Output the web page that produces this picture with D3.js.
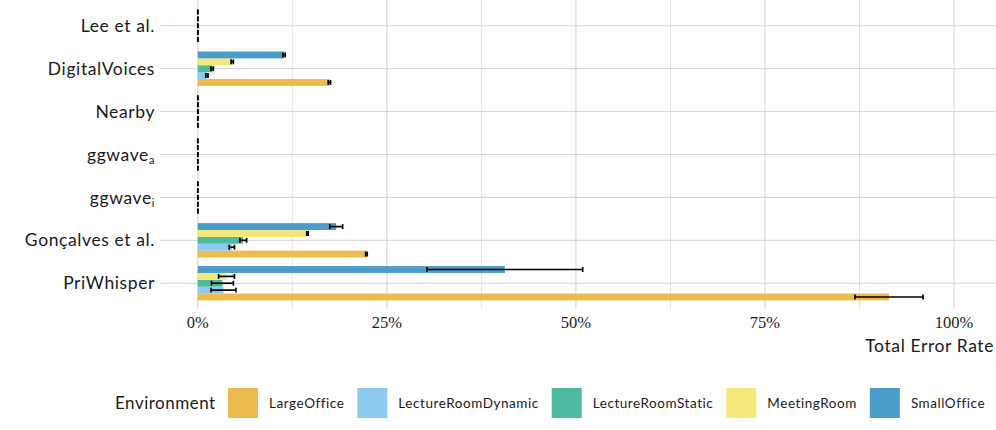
<!DOCTYPE html>
<html>
<head>
<meta charset="utf-8">
<script src="https://cdn.jsdelivr.net/npm/d3@7"></script>
<style>
  body { margin: 0; background: #fff; }
  svg { display: block; }
</style>
</head>
<body>
<div id="chart"></div>
<script>
// systems, top to bottom
var systems = ["Lee et al.", "DigitalVoices", "Nearby", "ggwave_a", "ggwave_i", "Gonçalves et al.", "PriWhisper"];
// environments, legend order (first one is drawn at the bottom of each group)
var environments = ["LargeOffice", "LectureRoomDynamic", "LectureRoomStatic", "MeetingRoom", "SmallOffice"];
var envColors = ["#ECB43B", "#81C4EE", "#3BB494", "#F4E66C", "#3691C3"];

// mean total error rate (%) per environment, in the order of systems
var largeOffice        = [0, 17.4, 0, 0, 0, 22.3, 91.4];
var lectureRoomDynamic = [0, 1.2, 0, 0, 0, 4.5, 3.4];
var lectureRoomStatic  = [0, 1.9, 0, 0, 0, 6.0, 3.25];
var meetingRoom        = [0, 4.55, 0, 0, 0, 14.5, 3.8];
var smallOffice        = [0, 11.4, 0, 0, 0, 18.3, 40.6];

// error bar half widths (%)
var largeOfficeErr        = [0, 0.15, 0, 0, 0, 0.1, 4.5];
var lectureRoomDynamicErr = [0, 0.15, 0, 0, 0, 0.35, 1.65];
var lectureRoomStaticErr  = [0, 0.15, 0, 0, 0, 0.45, 1.45];
var meetingRoomErr        = [0, 0.15, 0, 0, 0, 0.1, 1.05];
var smallOfficeErr        = [0, 0.15, 0, 0, 0, 0.85, 10.3];

var xTicks = [0, 25, 50, 75, 100];
var xMinor = [12.5, 37.5, 62.5, 87.5];

var width = 996, height = 430;
var margin = {top: 0, right: 0, bottom: 121, left: 160};

var means = [largeOffice, lectureRoomDynamic, lectureRoomStatic, meetingRoom, smallOffice];
var errs = [largeOfficeErr, lectureRoomDynamicErr, lectureRoomStaticErr, meetingRoomErr, smallOfficeErr];

var data = [];
environments.forEach(function(env, j) {
    systems.forEach(function(sys, i) {
        data.push({system: sys, env: env, value: means[j][i], err: errs[j][i]});
    });
});

var sans = "Lato, 'Open Sans', sans-serif";
var serif = "'Liberation Serif', 'DejaVu Serif', serif";

var svg = d3.select("#chart").append("svg").attr("width", width).attr("height", height);

var xScale = d3.scaleLinear()
    .domain([-5, 105.55])
    .range([margin.left, width - margin.right]);

var yScale = d3.scalePoint()
    .domain(systems)
    .range([margin.top, height - margin.bottom])
    .padding(0.6);

var step = yScale.step();
// dodge inside each group; reversed so that the first environment sits at the bottom
var dodge = d3.scaleBand()
    .domain(environments.slice().reverse())
    .range([-0.4 * step, 0.4 * step]);

var color = d3.scaleOrdinal().domain(environments).range(envColors);

var panelBottom = yScale.range()[1];

// grid
var grid = svg.append("g");
grid.selectAll("line.minor")
    .data(xMinor)
    .enter()
    .append("line")
    .attr("x1", d => xScale(d)).attr("x2", d => xScale(d))
    .attr("y1", margin.top).attr("y2", panelBottom)
    .attr("stroke", "#e3e3e3").attr("stroke-width", 1);
grid.selectAll("line.major")
    .data(xTicks)
    .enter()
    .append("line")
    .attr("x1", d => xScale(d)).attr("x2", d => xScale(d))
    .attr("y1", margin.top).attr("y2", panelBottom)
    .attr("stroke", "#d4d4d4").attr("stroke-width", 1);
grid.selectAll("line.y")
    .data(systems)
    .enter()
    .append("line")
    .attr("x1", margin.left).attr("x2", width - margin.right)
    .attr("y1", d => yScale(d)).attr("y2", d => yScale(d))
    .attr("stroke", "#d4d4d4").attr("stroke-width", 1);

// bars
svg.append("g")
    .selectAll("rect")
    .data(data)
    .enter()
    .append("rect")
    .attr("x", xScale(0))
    .attr("y", d => yScale(d.system) + dodge(d.env))
    .attr("width", d => xScale(d.value) - xScale(0))
    .attr("height", dodge.bandwidth())
    .attr("fill", d => color(d.env))
    .attr("fill-opacity", 0.9);

// error bars
var capH = dodge.bandwidth() * 0.72;
var eb = svg.append("g").attr("stroke", "#000").attr("stroke-width", 1.7);
data.forEach(function(d) {
    var cy = yScale(d.system) + dodge(d.env) + dodge.bandwidth() / 2;
    var lo = xScale(d.value - d.err), hi = xScale(d.value + d.err);
    eb.append("line").attr("x1", lo).attr("x2", hi).attr("y1", cy).attr("y2", cy);
    eb.append("line").attr("x1", lo).attr("x2", lo).attr("y1", cy - capH / 2).attr("y2", cy + capH / 2);
    eb.append("line").attr("x1", hi).attr("x2", hi).attr("y1", cy - capH / 2).attr("y2", cy + capH / 2);
});

// y labels
var yLab = svg.append("g")
    .selectAll("text")
    .data(systems)
    .enter()
    .append("text")
    .attr("x", margin.left - 5)
    .attr("y", d => yScale(d))
    .attr("dy", "0.35em")
    .attr("text-anchor", "end")
    .attr("font-family", sans)
    .attr("font-size", "17.5px")
    .attr("letter-spacing", "0.6px")
    .attr("fill", "#1a1a1a");
yLab.each(function(d) {
    var t = d3.select(this);
    var parts = d.split("_");
    t.append("tspan").text(parts[0]);
    if (parts.length > 1) {
        t.append("tspan").attr("font-size", "11px").attr("dy", "0.3em").text(parts[1]);
    }
});

// x tick labels
svg.append("g")
    .selectAll("text")
    .data(xTicks)
    .enter()
    .append("text")
    .attr("x", d => xScale(d))
    .attr("y", 328)
    .attr("text-anchor", "middle")
    .attr("font-family", serif)
    .attr("font-size", "16.5px")
    .attr("fill", "#1a1a1a")
    .text(d => d + "%");

svg.append("text")
    .attr("x", width - 2)
    .attr("y", 352)
    .attr("text-anchor", "end")
    .attr("font-family", sans)
    .attr("font-size", "17.5px")
    .attr("letter-spacing", "0.6px")
    .attr("fill", "#1a1a1a")
    .text("Total Error Rate");

// legend
var leg = svg.append("g").attr("transform", "translate(0,403)");
leg.append("text")
    .attr("x", 115)
    .attr("dy", "0.35em")
    .attr("font-family", sans)
    .attr("font-size", "17px")
    .attr("letter-spacing", "0.5px")
    .attr("fill", "#1a1a1a")
    .text("Environment");
var lx = 228;
environments.forEach(function(env) {
    leg.append("rect")
        .attr("x", lx).attr("y", -15)
        .attr("width", 30).attr("height", 30)
        .attr("fill", color(env))
        .attr("fill-opacity", 0.9);
    var t = leg.append("text")
        .attr("x", lx + 41)
        .attr("dy", "0.35em")
        .attr("font-family", sans)
        .attr("font-size", "13.5px")
        .attr("letter-spacing", "0.55px")
        .attr("fill", "#1a1a1a")
        .text(env);
    lx += 41 + t.node().getComputedTextLength() + 13;
});
</script>
</body>
</html>
